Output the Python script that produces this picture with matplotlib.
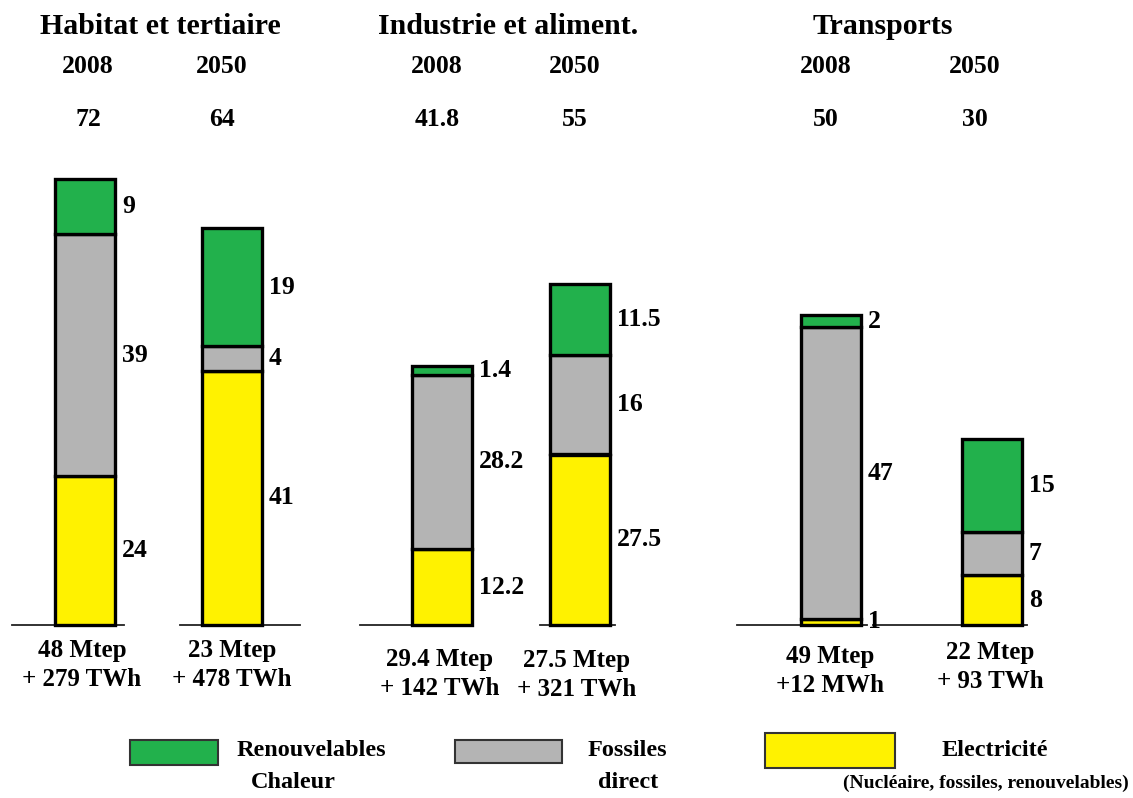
import matplotlib
matplotlib.use("Agg")
import matplotlib.pyplot as plt
from matplotlib.patches import Rectangle

plt.rcParams['font.family'] = ['Liberation Serif', 'DejaVu Serif']
plt.rcParams['font.weight'] = 'bold'

# data
sectors = ["Habitat et tertiaire", "Industrie et aliment.", "Transports"]
years = ["2008", "2050", "2008", "2050", "2008", "2050"]
totals = ["72", "64", "41.8", "55", "50", "30"]
elec = [24, 41, 12.2, 27.5, 1, 8]
fossiles = [39, 4, 28.2, 16, 47, 7]
renouv = [9, 19, 1.4, 11.5, 2, 15]
elec_lbl = ["24", "41", "12.2", "27.5", "1", "8"]
foss_lbl = ["39", "4", "28.2", "16", "47", "7"]
renouv_lbl = ["9", "19", "1.4", "11.5", "2", "15"]
bottom_lbl = ["48 Mtep\n+ 279 TWh", "23 Mtep\n+ 478 TWh", "29.4 Mtep\n+ 142 TWh",
              "27.5 Mtep\n+ 321 TWh", "49 Mtep\n+12 MWh", "22 Mtep\n+ 93 TWh"]

GREEN = "#22b14c"
GREY = "#b4b4b4"
YELLOW = "#fff200"

# layout (pixel-like x positions)
xpos = [85, 232, 442, 580, 831, 992]
head_x = [88, 222, 437, 575, 826, 975]
bottom_x = [82, 232, 440, 577, 830, 990]
bottom_y = [665, 665, 674, 675, 671, 667]
base_lines = [(12, 124), (180, 300), (360, 473), (540, 615), (737, 867), (873, 1027)]
sector_x = [160, 508, 883]
width = 60
s = 6.2          # pixels per unit
y0 = 625         # baseline pixel row

fig = plt.figure(figsize=(11.33, 7.98), dpi=100)
ax = fig.add_axes([0, 0, 1, 1])
ax.set_xlim(0, 1133)
ax.set_ylim(-(798 - y0) / s, y0 / s)
ax.axis('off')


def py(ypix):
    return (y0 - ypix) / s


lw = 2.4
ax.bar(xpos, elec, width, color=YELLOW, edgecolor='black', linewidth=lw, zorder=3)
b2 = [e for e in elec]
ax.bar(xpos, fossiles, width, bottom=b2, color=GREY, edgecolor='black', linewidth=lw, zorder=3)
b3 = [e + f for e, f in zip(elec, fossiles)]
ax.bar(xpos, renouv, width, bottom=b3, color=GREEN, edgecolor='black', linewidth=lw, zorder=3)

for a, b in base_lines:
    ax.plot([a, b], [0, 0], color='#222222', lw=1.3, zorder=2)

fs = 18.5
for i, x in enumerate(xpos):
    xr = x + width / 2 + 7
    ax.text(xr, elec[i] / 2, elec_lbl[i], fontsize=fs, va='center', ha='left')
    ax.text(xr, elec[i] + fossiles[i] / 2, foss_lbl[i], fontsize=fs, va='center', ha='left')
    ax.text(xr, b3[i] + renouv[i] / 2, renouv_lbl[i], fontsize=fs, va='center', ha='left')
    ax.text(head_x[i], py(67), years[i], fontsize=fs, ha='center', va='center')
    ax.text(head_x[i], py(120), totals[i], fontsize=fs, ha='center', va='center')
    ax.text(bottom_x[i], py(bottom_y[i]), bottom_lbl[i], fontsize=18, ha='center',
            va='center', linespacing=1.35)

for name, x in zip(sectors, sector_x):
    ax.text(x, py(27), name, fontsize=21.5, ha='center', va='center')

# legend
legend_items = [
    (130, 88, 25, 740, GREEN, "Renouvelables", 311, 17.5, "Chaleur", 293, 17.5, 'center'),
    (455, 107, 23, 740, GREY, "Fossiles", 627, 17.5, "direct", 628, 17.5, 'center'),
    (765, 130, 35, 733, YELLOW, "Electricité", 995, 17.5,
     "(Nucléaire, fossiles, renouvelables)", 1129, 14, 'right'),
]
for x, w, h, ytop, col, t1, tx1, f1, t2, tx2, f2, ha2 in legend_items:
    ax.add_patch(Rectangle((x, py(ytop + h)), w, h / s, facecolor=col,
                           edgecolor='#333333', linewidth=1.5, clip_on=False))
    ax.text(tx1, py(750), t1, fontsize=f1, ha='center', va='center')
    ax.text(tx2, py(783), t2, fontsize=f2, ha=ha2, va='center')

fig.savefig("out.png", dpi=100)
